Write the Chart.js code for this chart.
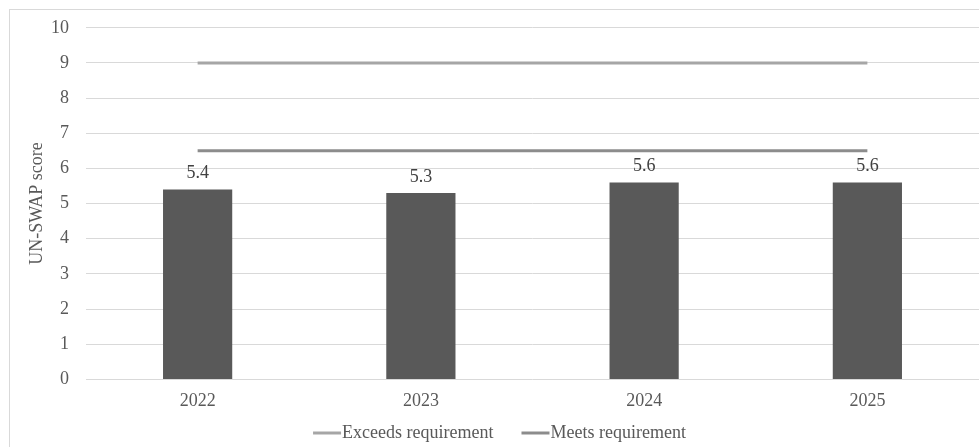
<!DOCTYPE html>
<html>
<head>
<meta charset="utf-8">
<script src="https://cdn.jsdelivr.net/npm/chart.js@4.4.1/dist/chart.umd.min.js"></script>
<style>
  html, body { margin: 0; padding: 0; background: #ffffff; }
  #wrap { width: 979px; height: 447px; position: relative; }
</style>
</head>
<body>
<div id="wrap"><canvas id="c" width="979" height="447"></canvas></div>
<script>
// Years and UN-SWAP scores
const years = ['2022', '2023', '2024', '2025'];
const scores = [5.4, 5.3, 5.6, 5.6];
// Requirement thresholds per year
const exceedsRequirement = [9, 9, 9, 9];
const meetsRequirement = [6.5, 6.5, 6.5, 6.5];
// Value axis ticks
const yTicks = [0, 1, 2, 3, 4, 5, 6, 7, 8, 9, 10];

const FONT = "'Liberation Serif', 'Times New Roman', serif";
const FONT_SIZE = 18;

// Light frame around the whole chart
const framePlugin = {
  id: 'frame',
  beforeDraw(chart) {
    const ctx = chart.ctx;
    ctx.save();
    ctx.fillStyle = '#ffffff';
    ctx.fillRect(0, 0, chart.width, chart.height);
    ctx.strokeStyle = '#d9d9d9';
    ctx.lineWidth = 1;
    ctx.strokeRect(9.5, 9.5, chart.width + 20, chart.height + 20);
    ctx.restore();
  }
};

// Score labels above each bar
const barLabels = {
  id: 'barLabels',
  afterDatasetsDraw(chart) {
    const meta = chart.getDatasetMeta(0);
    const ctx = chart.ctx;
    ctx.save();
    ctx.font = FONT_SIZE + 'px ' + FONT;
    ctx.fillStyle = '#404040';
    ctx.textAlign = 'center';
    ctx.textBaseline = 'middle';
    meta.data.forEach((bar, i) => {
      ctx.fillText(scores[i].toFixed(1), bar.x, bar.y - 16);
    });
    ctx.restore();
  }
};

// Compact legend: line sample followed directly by its label, for the threshold lines
const lineLegend = {
  id: 'lineLegend',
  afterDraw(chart) {
    const ctx = chart.ctx;
    const items = chart.data.datasets.filter(ds => ds.type === 'line');
    const sample = 28, textGap = 1, itemGap = 28;
    ctx.save();
    ctx.font = FONT_SIZE + 'px ' + FONT;
    ctx.textBaseline = 'middle';
    ctx.textAlign = 'left';
    const widths = items.map(ds => sample + textGap + ctx.measureText(ds.label).width);
    const total = widths.reduce((a, b) => a + b, 0) + itemGap * (items.length - 1);
    let x = chart.width / 2 + 10 - total / 2;
    const y = 433;
    items.forEach((ds, i) => {
      ctx.strokeStyle = ds.borderColor;
      ctx.lineWidth = 3;
      ctx.beginPath();
      ctx.moveTo(x, y);
      ctx.lineTo(x + sample, y);
      ctx.stroke();
      ctx.fillStyle = '#595959';
      ctx.fillText(ds.label, x + sample + textGap, y);
      x += widths[i] + itemGap;
    });
    ctx.restore();
  }
};

new Chart(document.getElementById('c'), {
  data: {
    labels: years,
    datasets: [
      {
        type: 'bar',
        label: 'UN-SWAP score',
        data: scores,
        backgroundColor: '#595959',
        categoryPercentage: 0.62,
        barPercentage: 0.5,
        order: 2
      },
      {
        type: 'line',
        label: 'Exceeds requirement',
        data: exceedsRequirement,
        borderColor: '#a6a6a6',
        backgroundColor: '#a6a6a6',
        borderWidth: 3,
        pointRadius: 0,
        fill: false,
        order: 1
      },
      {
        type: 'line',
        label: 'Meets requirement',
        data: meetsRequirement,
        borderColor: '#8c8c8c',
        backgroundColor: '#8c8c8c',
        borderWidth: 3,
        pointRadius: 0,
        fill: false,
        order: 1
      }
    ]
  },
  options: {
    responsive: false,
    animation: false,
    layout: { padding: { left: 10, right: 0, top: 21, bottom: 24 } },
    plugins: {
      tooltip: { enabled: false },
      legend: { display: false }
    },
    scales: {
      x: {
        offset: true,
        grid: { display: false, drawTicks: false },
        border: { display: false },
        ticks: { color: '#595959', font: { family: FONT, size: FONT_SIZE }, padding: 11 }
      },
      y: {
        min: 0,
        max: 10,
        afterBuildTicks(axis) {
          axis.ticks = yTicks.map(v => ({ value: v }));
        },
        afterFit(axis) { axis.width = 76; },
        grid: { color: '#d9d9d9', lineWidth: 1, drawTicks: false },
        border: { display: false },
        ticks: { color: '#595959', font: { family: FONT, size: FONT_SIZE }, padding: 17 },
        title: {
          display: true,
          text: 'UN-SWAP score',
          color: '#595959',
          font: { family: FONT, size: FONT_SIZE },
          padding: { top: 16, bottom: 0 }
        }
      }
    }
  },
  plugins: [framePlugin, barLabels, lineLegend]
});
</script>
</body>
</html>
